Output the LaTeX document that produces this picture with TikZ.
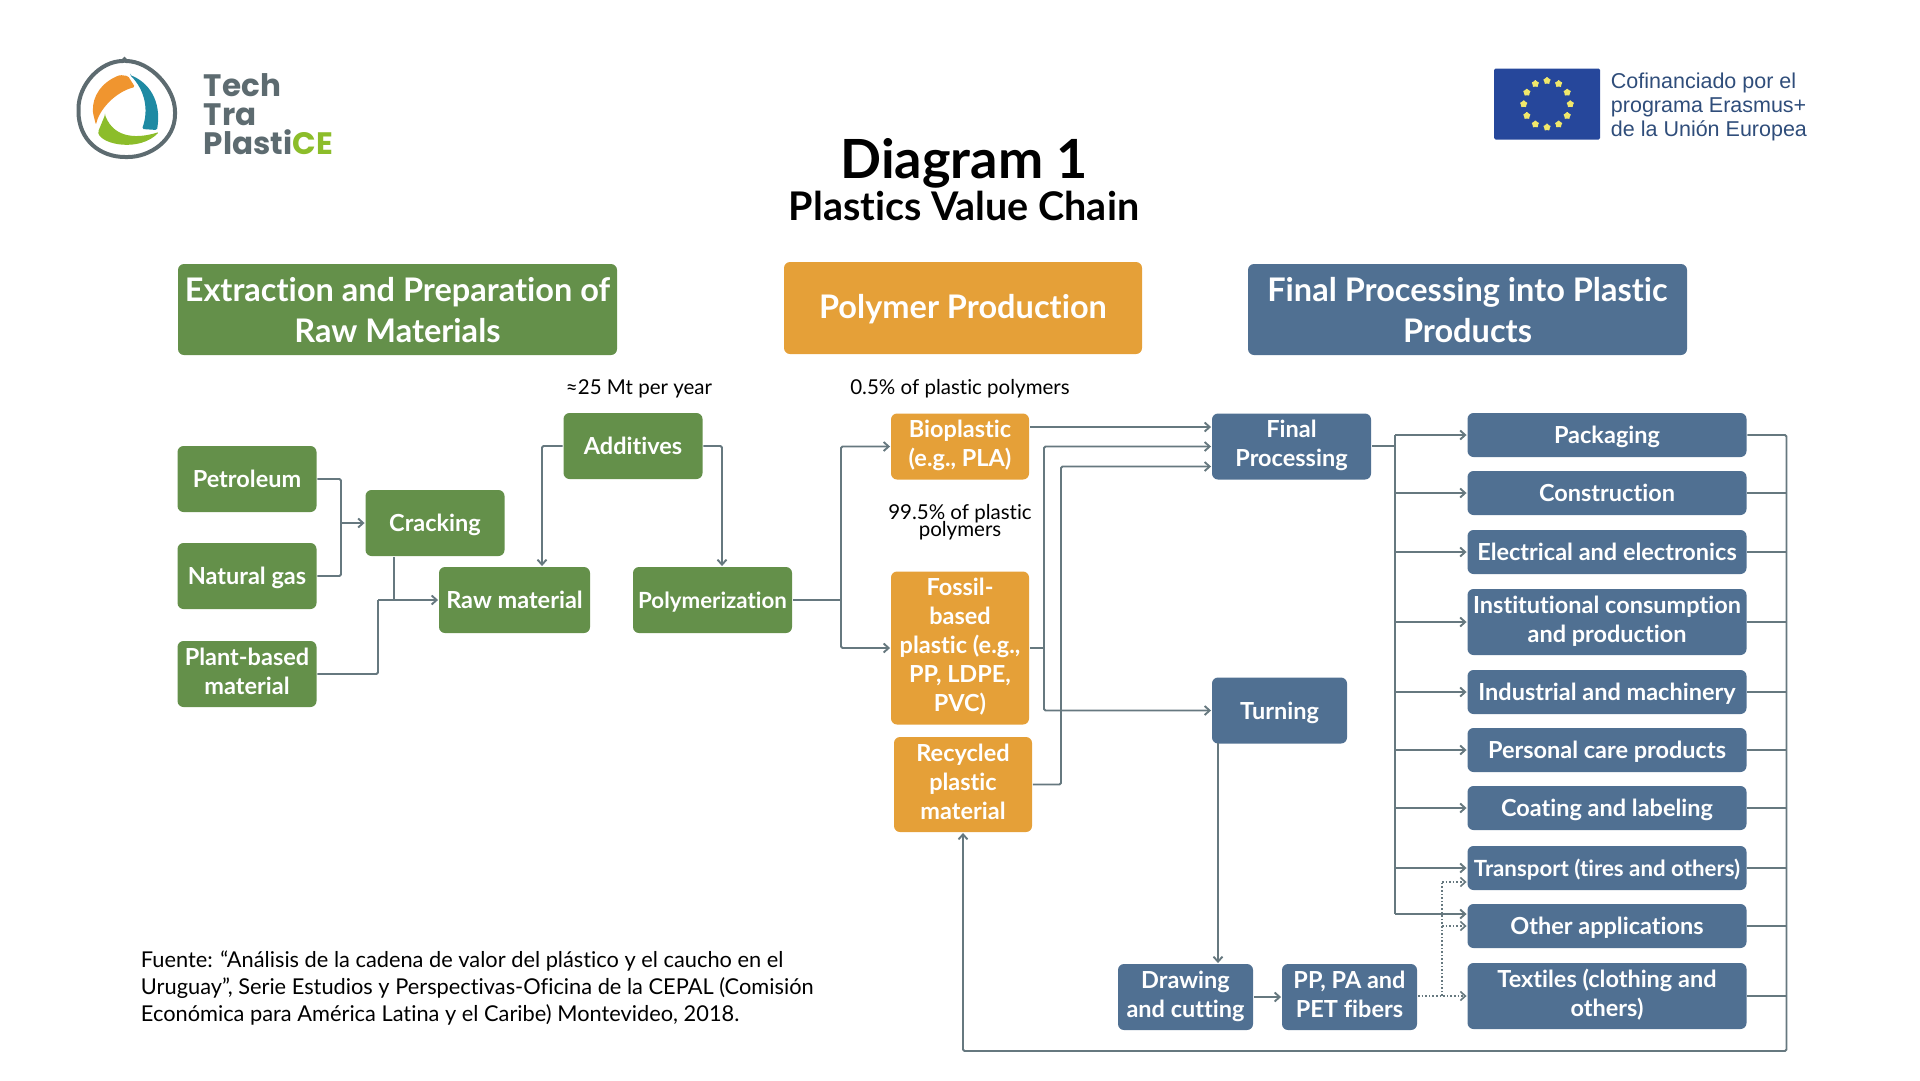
\documentclass[tikz,border=0pt]{standalone}
\usepackage{fontspec}
\setmainfont{Lato}[Ligatures=CommonOff]
\newfontfamily\eufont{Liberation Sans}
\newfontfamily\logofont{Poppins}
\usetikzlibrary{arrows.meta,shapes.geometric}

\definecolor{boxgreen}{HTML}{64904A}
\definecolor{boxorange}{HTML}{E5A038}
\definecolor{boxblue}{HTML}{507092}
\definecolor{linegray}{HTML}{66787F}
\definecolor{logogray}{HTML}{5D6B70}
\definecolor{logogreen}{HTML}{8CBD2A}
\definecolor{logoorange}{HTML}{F0952F}
\definecolor{logoteal}{HTML}{1F8AA3}
\definecolor{eublue}{HTML}{26479B}
\definecolor{eustar}{HTML}{F0E76B}
\definecolor{eutext}{HTML}{2F4D7A}

\newcommand{\upstrut}[1]{\rule[-\dimexpr\baselineskip-#1\baselineskip\relax]{0pt}{\baselineskip}}
\newcommand{\notefont}{\fontsize{20.5}{17.5}\selectfont\setlength{\lineskiplimit}{-20pt}}

\tikzset{
	textstrut/.style={execute at begin node=\upstrut{#1}, execute at end node=\upstrut{#1}},
	basebox/.style={rectangle, rounded corners=6pt, text=white, inner sep=0pt, align=center, font=\fontsize{23.5}{29}\selectfont\bfseries, textstrut=0.8},
	lines/.style={textstrut=0.85},
	greenbox/.style={basebox, fill=boxgreen, minimum width=139pt, minimum height=66pt},
	orangebox/.style={basebox, fill=boxorange, minimum width=138pt, lines},
	bluebox/.style={basebox, fill=boxblue, minimum height=66pt},
	appbox/.style={bluebox, minimum width=279pt, minimum height=44pt},
	headbox/.style={rectangle, rounded corners=6pt, minimum height=91pt, inner sep=0pt},
	headtext/.style={basebox, font=\fontsize{32.5}{41}\selectfont\bfseries, textstrut=0.94},
	tight/.style={font=\fontsize{22.3}{29}\selectfont\bfseries},
	note/.style={text=black, align=center, inner sep=0pt, font=\notefont},
	logotext/.style={text=logogray, anchor=west, inner sep=0pt, font=\logofont\fontsize{31}{31}\selectfont\bfseries},
	plain/.style={-},
	dots/.style={dotted, line width=1.6pt}
}

\begin{document}
\begin{tikzpicture}[x=1pt, y=-1pt, ->, >={Straight Barb[length=5pt,width=9pt]}, line width=1.9pt, draw=linegray, rounded corners=1.5pt]

	\useasboundingbox (0,0) rectangle (1920,1080);

	% logo
	\draw[plain, draw=logogray, line width=4pt] (124.5,61) .. controls (150,61) and (175,88) .. (175,113) .. controls (175,140) and (150,157) .. (126.5,157) .. controls (100,157) and (78.5,140) .. (78.5,110) .. controls (78.5,85) and (100,61) .. cycle;
	\fill[logoorange] (120,75) .. controls (102,82) and (92,96) .. (93,113) -- (96,125) .. controls (99,110) and (115,92) .. (135,87) -- (128,76) -- cycle;
	\fill[logoteal] (130,75) .. controls (148,82) and (162,100) .. (157,130) -- (142,129) .. controls (149,110) and (145,90) .. cycle;
	\fill[logogreen] (105,115) -- (98,132) .. controls (102,145) and (140,152) .. (159,132) .. controls (140,138) and (115,140) .. cycle;
	\node[logotext] (logotech) at (203,85) {Tech};
	\node[logotext] (logotra) at (203,115) {Tra};
	\node[logotext] (logoplast) at (203,142) {Plasti\textcolor{logogreen}{CE}};

	% EU flag
	\node[fill=eublue, minimum width=106pt, minimum height=71pt, inner sep=0pt] (euflag) at (1547,104) {};
	\foreach \a in {0,30,...,330}
		\node[star, star points=5, star point ratio=2.4, fill=eustar, inner sep=0pt, minimum size=10pt] (star\a) at ([shift={(\a:23.3pt)}]euflag.center) {};
	\node[text=eutext, anchor=west, inner sep=0pt, align=left, font=\eufont\fontsize{21.5}{24}\selectfont] (eutext) at (1610,106.5) {Cofinanciado por el\\programa Erasmus+\\de la Unión Europea};

	% titles
	\node[inner sep=0pt, font=\fontsize{54}{54}\selectfont\bfseries] (title) at (964,163) {Diagram 1};
	\node[inner sep=0pt, font=\fontsize{39.5}{39.5}\selectfont\bfseries] (subtitle) at (964,206) {Plastics Value Chain};

	% headers
	\node[headbox, fill=boxgreen, minimum width=439pt] (headgreen) at (397.5,309.5) {};
	\node[headtext] (headgreentext) at (397.5,313.8) {Extraction and Preparation of\\Raw Materials};
	\node[headbox, fill=boxorange, minimum width=358pt, minimum height=92pt] (headorange) at (963,308) {};
	\node[headtext, textstrut=0.8] (headorangetext) at (963,303.7) {Polymer Production};
	\node[headbox, fill=boxblue, minimum width=439pt] (headblue) at (1467.5,309.5) {};
	\node[headtext] (headbluetext) at (1467.5,313.8) {Final Processing into Plastic\\Products};

	% raw materials
	\node[greenbox] (petroleum) at (247,479) {Petroleum};
	\node[greenbox] (gas) at (247,576) {Natural gas};
	\node[greenbox, lines] (plant) at (247,674) {Plant-based\\material};
	\node[greenbox] (cracking) at (435,523) {Cracking};
	\node[greenbox] (additives) at (633,446) {Additives};
	\node[greenbox, minimum width=151pt] (raw) at (514.5,600) {Raw material};
	\node[greenbox, minimum width=159pt, tight] (polymerization) at (712.5,600) {Polymerization};

	% polymers
	\node[orangebox, minimum height=66pt] (bioplastic) at (960,446.5) {Bioplastic\\(e.g., PLA)};
	\node[orangebox, minimum height=153pt] (fossil) at (960,648) {Fossil-\\based\\plastic (e.g.,\\PP, LDPE,\\PVC)};
	\node[orangebox, minimum height=95pt] (recycled) at (963,784.5) {Recycled\\plastic\\material};

	% processing
	\node[bluebox, minimum width=159pt, lines] (final) at (1291.5,446.5) {Final\\Processing};
	\node[bluebox, minimum width=135pt] (turning) at (1279.5,710.5) {Turning};
	\node[bluebox, minimum width=135pt, lines] (drawing) at (1185.5,997) {Drawing\\and cutting};
	\node[bluebox, minimum width=135pt, lines] (fibers) at (1349.5,997) {PP, PA and\\PET fibers};

	% applications
	\node[appbox] (packaging) at (1607,435) {Packaging};
	\node[appbox] (construction) at (1607,493) {Construction};
	\node[appbox] (electrical) at (1607,552) {Electrical and electronics};
	\node[appbox, minimum height=66pt, lines] (institutional) at (1607,622) {Institutional consumption\\and production};
	\node[appbox] (industrial) at (1607,692) {Industrial and machinery};
	\node[appbox] (personal) at (1607,750) {Personal care products};
	\node[appbox] (coating) at (1607,808) {Coating and labeling};
	\node[appbox, tight] (transport) at (1607,868) {Transport (tires and others)};
	\node[appbox] (other) at (1607,926) {Other applications};
	\node[appbox, minimum height=66pt, lines] (textiles) at (1607,996) {Textiles (clothing and\\others)};

	% notes
	\node[note] (noteadd) at (639,389) {≈25 Mt per year};
	\node[note] (notebio) at (960,389) {0.5\% of plastic polymers};
	\node[note] (notefossil) at (960,522) {99.5\% of plastic\\polymers};
	\node[anchor=north west, inner sep=0pt, align=left, font=\fontsize{21.8}{27}\selectfont] (source) at (140,950) {Fuente: “Análisis de la cadena de valor del plástico y el caucho en el\\Uruguay”, Serie Estudios y Perspectivas-Oficina de la CEPAL (Comisión\\Económica para América Latina y el Caribe) Montevideo, 2018.};

	% junctions
	\coordinate (joincrack) at (341,523);
	\coordinate (joinraw) at (378,600);
	\coordinate (joinpoly) at (841,600);
	\coordinate (joinfossil) at (1044,648);
	\coordinate (joinrecycled) at (1061,784.5);
	\coordinate (trunk) at (1395,446);
	\coordinate (turnout) at (1218,743);
	\coordinate (joindots) at (1442,996);
	\coordinate (returncorner) at (1786.5,1051);

	\draw[plain] (petroleum) -| (joincrack);
	\draw[plain] (gas) -| (joincrack);
	\draw (joincrack) -- (cracking);
	\draw[plain] (cracking.south -| 394,0) -- (joinraw -| 394,0);
	\draw[plain] (plant) -| (joinraw);
	\draw (joinraw) -- (raw);
	\draw (additives.west) -| (raw.north -| 542,0);
	\draw (additives.east) -| (polymerization.north -| 722,0);
	\draw[plain] (polymerization) -- (joinpoly);
	\draw (joinpoly) |- (bioplastic);
	\draw (joinpoly) |- (fossil);

	\draw ([yshift=19.5pt]bioplastic.east) -- ([yshift=19.5pt]final.west);
	\draw[plain] (fossil) -- (joinfossil);
	\draw (joinfossil) |- (final);
	\draw (joinfossil) |- (turning);
	\draw (recycled) -- (joinrecycled) |- ([yshift=-20pt]final.west);
	\draw[plain] (final.east |- trunk) -- (trunk);
	\draw[plain] (trunk |- packaging.west) -- ([yshift=12pt]trunk |- other.west);
	\foreach \b in {packaging,construction,electrical,institutional,industrial,personal,coating,transport}
		\draw (trunk |- \b.west) -- (\b.west);
	\draw ([yshift=12pt]trunk |- other.west) -- ([yshift=12pt]other.west);

	\draw (turnout) -- (turnout |- drawing.north);
	\draw (drawing) -- (fibers);
	\draw[dots] (fibers.east |- joindots) -- (textiles.west |- joindots);
	\draw[dots, plain] (joindots) -- (joindots |- 0,882);
	\draw[dots] (joindots |- other.west) -- (other.west);
	\draw[dots] (joindots |- 0,882) -- ([yshift=-14pt]transport.west);

	% return line
	\foreach \b in {construction,electrical,institutional,industrial,personal,coating,transport,other,textiles}
		\draw[plain] (\b.east) -- (returncorner |- \b.east);
	\draw (packaging.east) -| (returncorner) -| (recycled.south);
\end{tikzpicture}
\end{document}
